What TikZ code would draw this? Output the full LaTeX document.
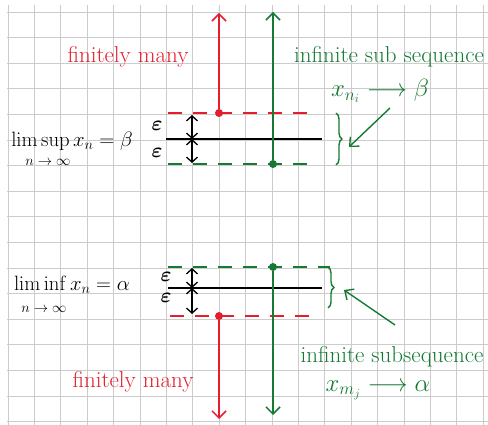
\documentclass[tikz,border=0pt]{standalone}
\usepackage{amsmath}
\usetikzlibrary{arrows.meta,positioning,decorations.pathreplacing}
\definecolor{penred}{RGB}{228,30,45}
\definecolor{pengreen}{RGB}{22,122,52}
\tikzset{
  gridline/.style = {draw=gray!40, line width=0.7pt},
  level/.style = {line width=1.3pt},
  bound/.style = {line width=1.5pt, dash pattern=on 14pt off 11pt},
  ray/.style = {line width=1.5pt, -{Straight Barb[length=7pt,width=14pt,line width=1.5pt]}},
  gap/.style = {line width=1.3pt, {Straight Barb[length=5pt,width=11pt]}-{Straight Barb[length=5pt,width=11pt]}},
  pointer/.style = {line width=1.4pt, -{Straight Barb[length=7pt,width=13pt]}},
  dot/.style = {circle, inner sep=0pt, minimum size=8pt},
  hand/.style = {font=\fontsize{23}{26}\selectfont, inner sep=1pt},
  limtxt/.style = {font=\fontsize{21}{24}\selectfont, inner sep=0pt},
  limsub/.style = {font=\fontsize{15}{18}\selectfont, inner sep=0pt},
  epsl/.style = {font=\fontsize{21}{24}\selectfont, inner sep=0pt},
  brc/.style = {pengreen, line width=1.4pt, decorate, decoration={brace, amplitude=6pt}}
}
\begin{document}
\begin{tikzpicture}[x=1pt, y=-1pt]
  \useasboundingbox (0,0) rectangle (488,425);
  % squared paper
  \foreach \k in {0,...,18}
    \draw[gridline] (8+26.4*\k,5) -- (8+26.4*\k,425);
  \foreach \k in {0,...,16}
    \draw[gridline] (7,12+25.6*\k) -- (488,12+25.6*\k);

  % upper half: limsup
  \node[hand, penred] (fin1) at (128,57) {finitely many};
  \node[hand, pengreen] (inf1) at (389,57) {infinite sub sequence};
  \node[hand, pengreen] (sub1) at (380,91) {$x_{n_i} \longrightarrow \beta$};
  \node[limtxt] (sup) at (72,141) {$\operatorname{lim\,sup} x_n = \beta$};
  \node[limsub] (supn) at (48,162) {$n\to\infty$};
  \node[dot, fill=penred] (rd1) at (219,113) {};
  \node[dot, fill=pengreen] (gd1) at (273,164) {};
  \coordinate (rt1) at (219,13);
  \coordinate (gt1) at (273,12);
  \coordinate (rl1) at (168,113);
  \coordinate (rr1) at (312,113);
  \coordinate (bl1) at (166,139);
  \coordinate (br1) at (322,139);
  \coordinate (gl1) at (168,164);
  \coordinate (gr1) at (312,164);
  \draw[bound, penred] (rl1) -- (rr1);
  \draw[bound, pengreen] (gl1) -- (gr1);
  \draw[level] (bl1) -- (br1);
  \draw[ray, penred] (rd1) -- (rt1);
  \draw[ray, pengreen] (gd1) -- (gt1);
  \node[epsl] (e1) at (157,126) {$\boldsymbol{\varepsilon}$};
  \node[epsl] (e2) at (157,153) {$\boldsymbol{\varepsilon}$};
  \coordinate (a1) at (192,115);
  \coordinate (a2) at (192,139);
  \coordinate (a3) at (192,163);
  \draw[gap] (a1) -- (a2);
  \draw[gap] (a2) -- (a3);
  \coordinate (bt1) at (336,113);
  \coordinate (bb1) at (336,165);
  \draw[brc] (bt1) -- (bb1);
  \coordinate (p1) at (390,108);
  \coordinate (q1) at (349,147);
  \draw[pointer, pengreen] (p1) -- (q1);

  % lower half: liminf
  \node[limtxt] (inf) at (72,285) {$\operatorname{lim\,inf} x_n = \alpha$};
  \node[limsub] (infn) at (44,309) {$n\to\infty$};
  \node[hand, penred] (fin2) at (133,382) {finitely many};
  \node[hand, pengreen] (inf2) at (392,357) {infinite subsequence};
  \node[hand, pengreen] (sub2) at (378,390) {$x_{m_j} \longrightarrow \alpha$};
  \node[dot, fill=pengreen] (gd2) at (273,267) {};
  \node[dot, fill=penred] (rd2) at (219,316) {};
  \coordinate (gt2) at (273,415);
  \coordinate (rt2) at (219,419);
  \coordinate (gl2) at (168,267);
  \coordinate (gr2) at (330,267);
  \coordinate (bl2) at (168,288);
  \coordinate (br2) at (322,288);
  \coordinate (rl2) at (170,316);
  \coordinate (rr2) at (314,316);
  \draw[bound, pengreen] (gl2) -- (gr2);
  \draw[bound, penred] (rl2) -- (rr2);
  \draw[level] (bl2) -- (br2);
  \draw[ray, pengreen] (gd2) -- (gt2);
  \draw[ray, penred] (rd2) -- (rt2);
  \node[epsl] (e3) at (166,277) {$\boldsymbol{\varepsilon}$};
  \node[epsl] (e4) at (166,298) {$\boldsymbol{\varepsilon}$};
  \coordinate (a4) at (192,268);
  \coordinate (a5) at (192,288);
  \coordinate (a6) at (192,314);
  \draw[gap] (a4) -- (a5);
  \draw[gap] (a5) -- (a6);
  \coordinate (bt2) at (328,267);
  \coordinate (bb2) at (328,308);
  \draw[brc] (bt2) -- (bb2);
  \coordinate (p2) at (395,325);
  \coordinate (q2) at (344,290);
  \draw[pointer, pengreen] (p2) -- (q2);
\end{tikzpicture}
\end{document}
